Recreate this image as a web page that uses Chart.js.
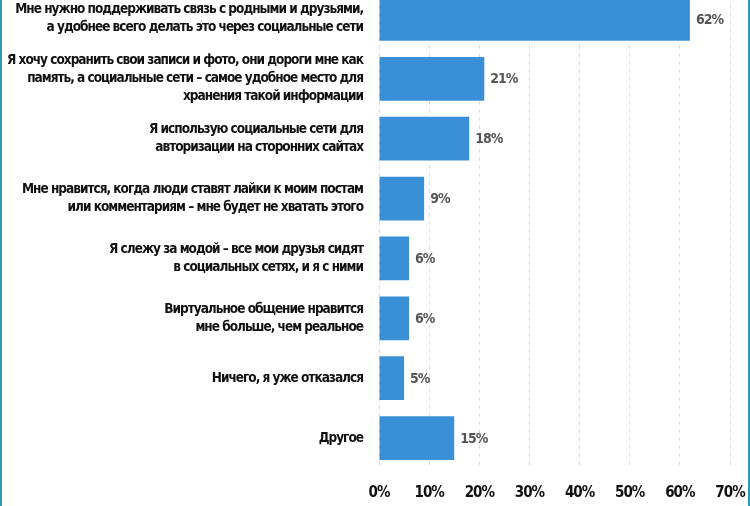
<!DOCTYPE html>
<html>
<head>
<meta charset="utf-8">
<script src="https://cdn.jsdelivr.net/npm/chart.js@4"></script>
<style>
	html, body { margin: 0; padding: 0; background: #fff; overflow: hidden; }
	#wrap { position: absolute; left: 0; top: -11px; width: 750px; height: 531px; }
	.edge { position: absolute; top: 0; width: 2px; height: 506px; background: #2a9bb8; }
</style>
</head>
<body>
<div id="wrap"><canvas id="chart"></canvas></div>
<div class="edge" style="left:0"></div>
<div class="edge" style="right:0"></div>
<script>
// answers (multi-line labels)
const answers = [
	["Мне нужно поддерживать связь с родными и друзьями,", "а удобнее всего делать это через социальные сети"],
	["Я хочу сохранить свои записи и фото, они дороги мне как", "память, а социальные сети – самое удобное место для", "хранения такой информации"],
	["Я использую социальные сети для", "авторизации на сторонних сайтах"],
	["Мне нравится, когда люди ставят лайки к моим постам", "или комментариям – мне будет не хватать этого"],
	["Я слежу за модой – все мои друзья сидят", "в социальных сетях, и я с ними"],
	["Виртуальное общение нравится", "мне больше, чем реальное"],
	["Ничего, я уже отказался"],
	["Другое"],
];
const shares = [62, 21, 18, 9, 6, 6, 5, 15];
const xTicks = [0, 10, 20, 30, 40, 50, 60, 70];

const FONT = "'Liberation Sans Narrow', 'DejaVu Sans Condensed', sans-serif";

// tighter text, the original uses a condensed face
const tightText = {
	id: "tightText",
	beforeDraw(chart) {
		chart.ctx.letterSpacing = "-1px";
	},
};

// draws "62%" etc. right of each bar
const valueLabels = {
	id: "valueLabels",
	afterDatasetsDraw(chart) {
		const ctx = chart.ctx;
		const meta = chart.getDatasetMeta(0);
		ctx.save();
		ctx.letterSpacing = "-1px";
		ctx.font = "bold 14px " + FONT;
		ctx.fillStyle = "#555";
		ctx.textBaseline = "middle";
		meta.data.forEach((bar, i) => {
			ctx.fillText(shares[i] + "%", bar.x + 6, bar.y + 1);
		});
		ctx.restore();
	},
};

new Chart(document.getElementById("chart"), {
	type: "bar",
	data: {
		labels: answers,
		datasets: [
			{
				data: shares,
				backgroundColor: "#3a90d6",
				borderWidth: 0,
				categoryPercentage: 1,
				barPercentage: 0.73,
			},
		],
	},
	plugins: [tightText, valueLabels],
	options: {
		indexAxis: "y",
		responsive: true,
		maintainAspectRatio: false,
		animation: false,
		layout: { padding: { left: 2, right: 20, top: 0, bottom: 2 } },
		plugins: { legend: { display: false }, tooltip: { enabled: false } },
		scales: {
			x: {
				min: xTicks[0],
				max: xTicks[xTicks.length - 1],
				afterBuildTicks(scale) {
					scale.ticks = xTicks.map((v) => ({ value: v }));
				},
				afterFit(scale) {
					scale.paddingLeft = 0;
					scale.paddingRight = 0;
				},
				border: { display: false, dash: [4, 4] },
				grid: { color: "#dcdcdc", drawTicks: false },
				ticks: {
					padding: 16,
					color: "#111",
					maxRotation: 0,
					font: { family: FONT, size: 15, weight: "bold" },
					callback: (v) => v + "%",
				},
			},
			y: {
				afterFit(scale) {
					scale.width = 377;
					scale.paddingTop = 0;
					scale.paddingBottom = 0;
				},
				border: { display: false },
				grid: { display: false, drawTicks: false },
				ticks: {
					autoSkip: false,
					padding: 16,
					color: "#111",
					font: { family: FONT, size: 13.5, weight: "bold", lineHeight: 1.33 },
				},
			},
		},
	},
});
</script>
</body>
</html>
